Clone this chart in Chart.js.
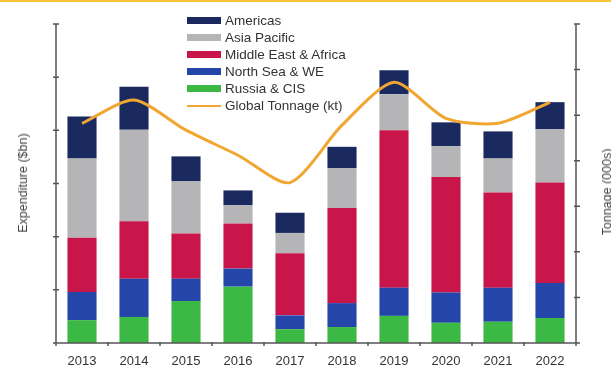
<!DOCTYPE html>
<html>
<head>
<meta charset="utf-8">
<script src="https://cdn.jsdelivr.net/npm/chart.js@4.4.1/dist/chart.umd.min.js"></script>
<style>
    body { margin: 0; background: #fff; font-family: "Liberation Sans", Arial, sans-serif; }
    #wrap { position: relative; width: 611px; height: 369px; overflow: hidden; background: #fff; }
    #topline { position: absolute; left: 0; top: 0; width: 611px; height: 2px; background: #f8c53a; }
    canvas { position: absolute; left: 0; top: 0; }
    .axis-title { position: absolute; font-size: 12.5px; color: #444; white-space: nowrap; transform: translate(-50%, -50%) rotate(-90deg); }
    #legend { position: absolute; left: 187px; top: 12px; font-size: 13.5px; color: #333; }
    .leg-row { height: 17px; display: flex; align-items: center; }
    .leg-swatch { width: 34px; margin-right: 4px; }
</style>
</head>
<body>
<div id="wrap">
    <div id="topline"></div>
    <canvas id="expChart" width="611" height="369"></canvas>
    <div class="axis-title" style="left:23px; top:183px;">Expenditure ($bn)</div>
    <div class="axis-title" style="left:607px; top:192px;">Tonnage (000s)</div>
    <div id="legend"></div>
</div>
<script>
const years = ['2013', '2014', '2015', '2016', '2017', '2018', '2019', '2020', '2021', '2022'];
const russiaCis = [4.3, 4.9, 7.9, 10.6, 2.6, 3.0, 5.1, 3.8, 4.0, 4.7];
const northSeaWe = [5.3, 7.2, 4.2, 3.4, 2.6, 4.5, 5.3, 5.7, 6.4, 6.6];
const middleEastAfrica = [10.2, 10.8, 8.5, 8.5, 11.7, 17.9, 29.6, 21.7, 17.9, 18.9];
const asiaPacific = [14.9, 17.2, 9.8, 3.4, 3.8, 7.5, 6.8, 5.8, 6.4, 10.0];
const americas = [7.9, 8.1, 4.7, 2.8, 3.8, 4.0, 4.5, 4.5, 5.1, 5.1];
const globalTonnage = [48.2, 53.3, 46.7, 41.2, 35.2, 47.8, 57.2, 49.3, 48.2, 52.8];

const expenditureMax = 60;
const tonnageMax = 70;

// draws the plain axis lines and tick marks (no labels on the y axes)
const axisLines = {
    id: 'axisLines',
    afterDatasetsDraw(chart) {
        const { ctx, chartArea } = chart;
        const x = chart.scales.x, y = chart.scales.y, y1 = chart.scales.y1;
        ctx.save();
        ctx.strokeStyle = '#555';
        ctx.lineWidth = 1.5;

        ctx.beginPath();
        ctx.moveTo(chartArea.left, y.getPixelForValue(0));
        ctx.lineTo(chartArea.left, y.getPixelForValue(expenditureMax));
        for (let v = 0; v <= expenditureMax; v += 10) {
            const py = y.getPixelForValue(v);
            ctx.moveTo(chartArea.left - 3, py);
            ctx.lineTo(chartArea.left + 3, py);
        }

        ctx.moveTo(chartArea.right, y1.getPixelForValue(0));
        ctx.lineTo(chartArea.right, y1.getPixelForValue(tonnageMax));
        for (let v = 0; v <= tonnageMax; v += 10) {
            const py = y1.getPixelForValue(v);
            ctx.moveTo(chartArea.right - 2, py);
            ctx.lineTo(chartArea.right + 4, py);
        }

        ctx.moveTo(chartArea.left, chartArea.bottom);
        ctx.lineTo(chartArea.right, chartArea.bottom);
        for (let i = 0; i <= years.length; i++) {
            const px = x.getPixelForValue(i - 0.5);
            ctx.moveTo(px, chartArea.bottom - 1);
            ctx.lineTo(px, chartArea.bottom + 3);
        }
        ctx.stroke();
        ctx.restore();
    }
};

const barDefaults = { type: 'bar', yAxisID: 'y', order: 1, barPercentage: 0.56, categoryPercentage: 1, borderWidth: 0 };

const chart = new Chart(document.getElementById('expChart'), {
    data: {
        labels: years,
        datasets: [
            { ...barDefaults, label: 'Russia & CIS', data: russiaCis, backgroundColor: '#3cb844' },
            { ...barDefaults, label: 'North Sea & WE', data: northSeaWe, backgroundColor: '#2346a8' },
            { ...barDefaults, label: 'Middle East & Africa', data: middleEastAfrica, backgroundColor: '#c8154a' },
            { ...barDefaults, label: 'Asia Pacific', data: asiaPacific, backgroundColor: '#b5b5b7' },
            { ...barDefaults, label: 'Americas', data: americas, backgroundColor: '#1b2a5e' },
            {
                type: 'line',
                label: 'Global Tonnage (kt)',
                data: globalTonnage,
                yAxisID: 'y1',
                order: 0,
                borderColor: '#f2a632',
                borderWidth: 3,
                pointRadius: 0,
                tension: 0.25,
                fill: false
            }
        ]
    },
    options: {
        responsive: false,
        animation: false,
        layout: { padding: { left: 56, right: 35, top: 24, bottom: 0 } },
        plugins: { legend: { display: false }, tooltip: { enabled: false } },
        scales: {
            x: {
                stacked: true,
                grid: { display: false, drawTicks: false },
                border: { display: false },
                ticks: { color: '#333', font: { family: 'Liberation Sans', size: 13 }, padding: 11 },
                afterFit: (s) => { s.height = 26; }
            },
            y: { display: false, stacked: true, min: 0, max: expenditureMax },
            y1: { display: false, position: 'right', min: 0, max: tonnageMax }
        }
    },
    plugins: [axisLines]
});

// legend, top-to-bottom as in the stack
const legend = document.getElementById('legend');
const legendItems = chart.data.datasets.slice(0, 5).reverse().concat(chart.data.datasets[5]);
legend.innerHTML = legendItems.map((ds) => {
    const isLine = ds.type === 'line';
    const sw = isLine
        ? `<span class="leg-swatch" style="height:2px;background:${ds.borderColor}"></span>`
        : `<span class="leg-swatch" style="height:7px;background:${ds.backgroundColor}"></span>`;
    return `<div class="leg-row">${sw}<span>${ds.label}</span></div>`;
}).join('');
</script>
</body>
</html>
